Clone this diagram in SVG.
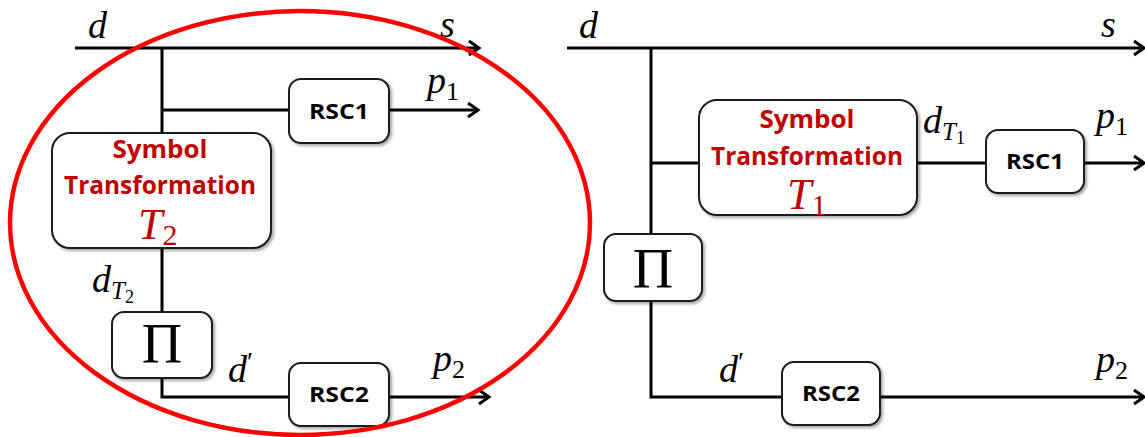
<svg xmlns="http://www.w3.org/2000/svg" width="1145" height="437" viewBox="0 0 1145 437">
<style>
  .box{fill:#fff;stroke:#1a1a1a;stroke-width:2;filter:url(#sh)}
  .wire{fill:none;stroke:#000;stroke-width:3}
  .math{font-family:"Liberation Serif","DejaVu Serif",serif;font-style:italic;font-size:38px;fill:#000}
  .up{font-style:normal}
  .pi{font-family:"Liberation Serif","DejaVu Serif",serif;font-size:56px;fill:#000;text-anchor:middle}
  .rsc{font-family:"Open Sans","Liberation Sans",sans-serif;font-weight:bold;font-size:22px;fill:#000;text-anchor:middle}
  .st{font-family:"Open Sans","Liberation Sans",sans-serif;font-weight:bold;font-size:25px;fill:#c00000;text-anchor:middle}
  .tm{font-family:"Liberation Serif","DejaVu Serif",serif;font-style:italic;font-size:44px;fill:#c00000}
</style>
<defs>
  <filter id="sh" x="-10%" y="-10%" width="130%" height="130%">
    <feDropShadow dx="2" dy="2" stdDeviation="1.5" flood-color="#000" flood-opacity="0.35"/>
  </filter>
  <marker id="arr" markerWidth="16" markerHeight="18" refX="13" refY="9" orient="auto" markerUnits="userSpaceOnUse">
    <path d="M3,2 L13,9 L3,16" fill="none" stroke="#000" stroke-width="3"/>
  </marker>
</defs>

<g id="connectors">
  <path class="wire" d="M75,48 H479" marker-end="url(#arr)"/>
  <path class="wire" d="M162,48 V133"/>
  <path class="wire" d="M162,110 H289"/>
  <path class="wire" d="M389,110 H478" marker-end="url(#arr)"/>
  <path class="wire" d="M162,248 V312"/>
  <path class="wire" d="M162,378 V397 H289"/>
  <path class="wire" d="M389,397 H489" marker-end="url(#arr)"/>

  <path class="wire" d="M567,48 H1144" marker-end="url(#arr)"/>
  <path class="wire" d="M651,48 V234"/>
  <path class="wire" d="M651,301 V397 H782"/>
  <path class="wire" d="M651,163 H699"/>
  <path class="wire" d="M917,163 H986"/>
  <path class="wire" d="M1084,163 H1144" marker-end="url(#arr)"/>
  <path class="wire" d="M880,397 H1144" marker-end="url(#arr)"/>
</g>

<g id="labels">
  <text class="math" x="88" y="38">d</text>
  <text class="math" x="440" y="37">s</text>
  <text class="math" x="427" y="93">p<tspan class="up" font-size="26" dy="7">1</tspan></text>
  <text class="math" x="92" y="292">d<tspan font-size="25" dy="7">T</tspan><tspan class="up" font-size="18" dy="4">2</tspan></text>
  <text class="math" x="228" y="382">d<tspan class="up" font-size="28" dy="-11">′</tspan></text>
  <text class="math" x="433" y="371">p<tspan class="up" font-size="26" dy="7">2</tspan></text>

  <text class="math" x="579" y="38">d</text>
  <text class="math" x="1101" y="37">s</text>
  <text class="math" x="923" y="133">d<tspan font-size="25" dy="7">T</tspan><tspan class="up" font-size="18" dy="4">1</tspan></text>
  <text class="math" x="1096" y="128">p<tspan class="up" font-size="26" dy="7">1</tspan></text>
  <text class="math" x="719" y="382">d<tspan class="up" font-size="28" dy="-11">′</tspan></text>
  <text class="math" x="1096" y="372">p<tspan class="up" font-size="26" dy="7">2</tspan></text>
</g>

<g id="T2">
  <rect class="box" x="52" y="133" width="219" height="115" rx="18"/>
  <text class="st" x="160" y="158" textLength="95" lengthAdjust="spacingAndGlyphs">Symbol</text>
  <text class="st" x="160" y="194" textLength="192" lengthAdjust="spacingAndGlyphs">Transformation</text>
  <text class="tm" x="138" y="239">T<tspan class="up" font-size="30" dy="6">2</tspan></text>
</g>
<g id="RSC1a">
  <rect class="box" x="289" y="79" width="100" height="64" rx="12"/>
  <text class="rsc" x="339" y="119" textLength="60" lengthAdjust="spacingAndGlyphs">RSC1</text>
</g>
<g id="PIa">
  <rect class="box" x="112" y="312" width="100" height="66" rx="12"/>
  <text class="pi" x="162" y="363">Π</text>
</g>
<g id="RSC2a">
  <rect class="box" x="289" y="363" width="100" height="63" rx="12"/>
  <text class="rsc" x="339" y="402" textLength="60" lengthAdjust="spacingAndGlyphs">RSC2</text>
</g>

<g id="T1">
  <rect class="box" x="699" y="100" width="218" height="115" rx="18"/>
  <text class="st" x="807" y="128" textLength="95" lengthAdjust="spacingAndGlyphs">Symbol</text>
  <text class="st" x="807" y="165" textLength="192" lengthAdjust="spacingAndGlyphs">Transformation</text>
  <text class="tm" x="787" y="209">T<tspan class="up" font-size="30" dy="6">1</tspan></text>
</g>
<g id="RSC1b">
  <rect class="box" x="986" y="130" width="98" height="63" rx="12"/>
  <text class="rsc" x="1035" y="169" textLength="58" lengthAdjust="spacingAndGlyphs">RSC1</text>
</g>
<g id="PIb">
  <rect class="box" x="604" y="234" width="98" height="67" rx="12"/>
  <text class="pi" x="653" y="288">Π</text>
</g>
<g id="RSC2b">
  <rect class="box" x="782" y="362" width="98" height="63" rx="12"/>
  <text class="rsc" x="831" y="401" textLength="58" lengthAdjust="spacingAndGlyphs">RSC2</text>
</g>

<g id="highlight">
  <ellipse cx="300" cy="223" rx="290" ry="212" fill="none" stroke="#ff0000" stroke-width="4.5"/>
</g>
</svg>
